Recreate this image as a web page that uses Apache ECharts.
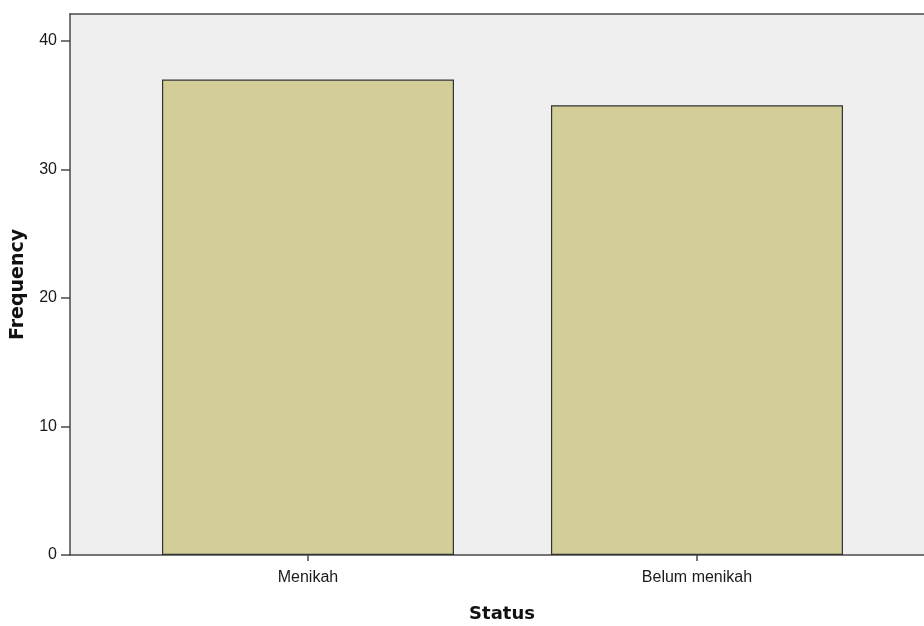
<!DOCTYPE html>
<html>
<head>
<meta charset="utf-8">
<script src="https://cdn.jsdelivr.net/npm/echarts@6/dist/echarts.min.js"></script>
<style>
html,body{margin:0;padding:0;background:#fff;}
#chart{width:924px;height:626px;}
</style>
</head>
<body>
<div id="chart"></div>
<script>
const categories = ['Menikah', 'Belum menikah'];
const frequency = [37, 35];
const yTickValues = [0, 10, 20, 30, 40];
const categoryPositions = [1, 2];

const X_MIN = 0.3882, X_MAX = 2.5836;
const lineCol = '#4a4a4a';

const chart = echarts.init(document.getElementById('chart'), null, {renderer: 'canvas'});
chart.setOption({
  animation: false,
  grid: {
    left: 70, top: 14, bottom: 71, right: 0,
    outerBoundsMode: 'none', containLabel: false,
    show: true, backgroundColor: '#EFEFEF', borderWidth: 0
  },
  xAxis: [{
    type: 'value',
    min: X_MIN, max: X_MAX,
    name: 'Status', nameLocation: 'middle', nameGap: 50,
    nameTextStyle: {fontFamily: 'DejaVu Sans', fontWeight: 'bold', fontSize: 18, color: '#111', padding: [0, 0, 0, 10]},
    axisLine: {show: true, onZero: false, lineStyle: {color: lineCol, width: 1.5}},
    axisTick: {show: true, customValues: categoryPositions, length: 6, lineStyle: {color: lineCol, width: 1.5}},
    axisLabel: {
      customValues: categoryPositions, margin: 15,
      fontFamily: 'Liberation Sans', fontSize: 16, color: '#1a1a1a',
      formatter: v => categories[Math.round(v) - 1]
    },
    splitLine: {show: false}
  }, {
    type: 'value', position: 'top',
    min: X_MIN, max: X_MAX,
    axisLine: {show: true, onZero: false, lineStyle: {color: lineCol, width: 1.5}},
    axisTick: {show: false}, axisLabel: {show: false}, splitLine: {show: false}
  }],
  yAxis: {
    type: 'value',
    min: 0, max: 42.1,
    name: 'Frequency', nameLocation: 'middle', nameGap: 42,
    nameTextStyle: {fontFamily: 'DejaVu Sans', fontWeight: 'bold', fontSize: 19, color: '#111'},
    axisLine: {show: true, lineStyle: {color: lineCol, width: 1.5}},
    axisTick: {show: true, customValues: yTickValues, length: 9, lineStyle: {color: lineCol, width: 1.5}},
    axisLabel: {customValues: yTickValues, margin: 13, fontFamily: 'Liberation Sans', fontSize: 16, color: '#1a1a1a'},
    splitLine: {show: false}
  },
  series: [{
    type: 'bar',
    xAxisIndex: 0,
    barWidth: 292,
    data: categories.map((c, i) => [categoryPositions[i], frequency[i]]),
    itemStyle: {color: '#D3CE98', borderColor: '#333', borderWidth: 1.2}
  }]
});
</script>
</body>
</html>
